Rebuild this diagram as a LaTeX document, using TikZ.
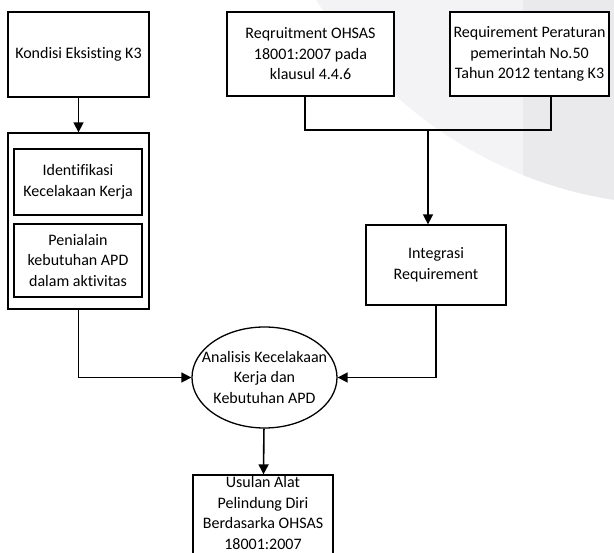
\documentclass[tikz,border=0pt]{standalone}
\usepackage{fontspec}
\setmainfont{Carlito}[Ligatures=NoCommon]
\usetikzlibrary{arrows.meta,shapes.geometric}
\definecolor{wmlight}{RGB}{243,243,245}
\definecolor{wmdark}{RGB}{234,234,237}
\tikzset{
  kotak/.style={draw,fill=white,line width=1.3pt,align=center,inner sep=0pt},
  teks/.style={align=center,inner sep=0pt},
  panah/.style={-{Triangle[length=10pt,width=10pt]},line width=1.6pt},
  garis/.style={line width=1.6pt}
}
\begin{document}
\begin{tikzpicture}[x=1pt,y=-1pt,font=\fontsize{16}{20.5}\selectfont]
        \useasboundingbox (0,0) rectangle (614,553);
        \clip (0,0) rectangle (614,553);

        % latar
        \fill[wmlight] (680,-220) circle (425);
        \begin{scope}
            \clip (680,-220) circle (425);
            \fill[wmdark] (523,0) rectangle (614,553);
        \end{scope}

        \node[kotak,minimum width=141,minimum height=85] (kondisi) at (78.5,54.5) {Kondisi Eksisting K3};
        \node[kotak,minimum width=141,minimum height=176] (wadah) at (78.5,221) {};
        \node[kotak,minimum width=128,minimum height=66] (identifikasi) at (78,182) {Identifikasi\\Kecelakaan Kerja};
        \node[kotak,minimum width=128,minimum height=73] (penilaian) at (78,260.5) {Penialain\\kebutuhan APD\\dalam aktivitas};
        \node[kotak,minimum width=167,minimum height=84] (ohsas) at (310.5,54) {Reqruitment OHSAS\\18001:2007 pada\\klausul 4.4.6};
        \node[kotak,minimum width=159,minimum height=84] (pp50) at (529.5,54) {Requirement Peraturan\\pemerintah No.50\\Tahun 2012 tentang K3};
        \node[kotak,minimum width=140,minimum height=80] (integrasi) at (436,265) {Integrasi\\Requirement};
        \node[kotak,ellipse,minimum width=145,minimum height=101] (analisis) at (264.5,377.5) {};
        \node[teks] (analisisteks) at (analisis.center) {Analisis Kecelakaan\\Kerja dan\\Kebutuhan APD};
        \node[kotak,minimum width=140,minimum height=90] (usulan) at (263,520) {};
        \node[teks] (usulanteks) at (263,513) {Usulan Alat\\Pelindung Diri\\Berdasarka OHSAS\\18001:2007};

        \coordinate (kiri) at (305,130);
        \coordinate (kanan) at (551,130);
        \coordinate (tengah) at (428,130);

        \draw[panah] (kondisi) -- (wadah);
        \draw[garis] (ohsas.south -| kiri) -- (kiri) -- (kanan) -- (pp50.south -| kanan);
        \draw[panah] (tengah) -- (integrasi.north -| tengah);
        \draw[panah] (wadah.south) |- (analisis.west);
        \draw[panah] (integrasi.south) |- (analisis.east);
        \draw[panah] (analisis) -- (usulan);
\end{tikzpicture}
\end{document}
